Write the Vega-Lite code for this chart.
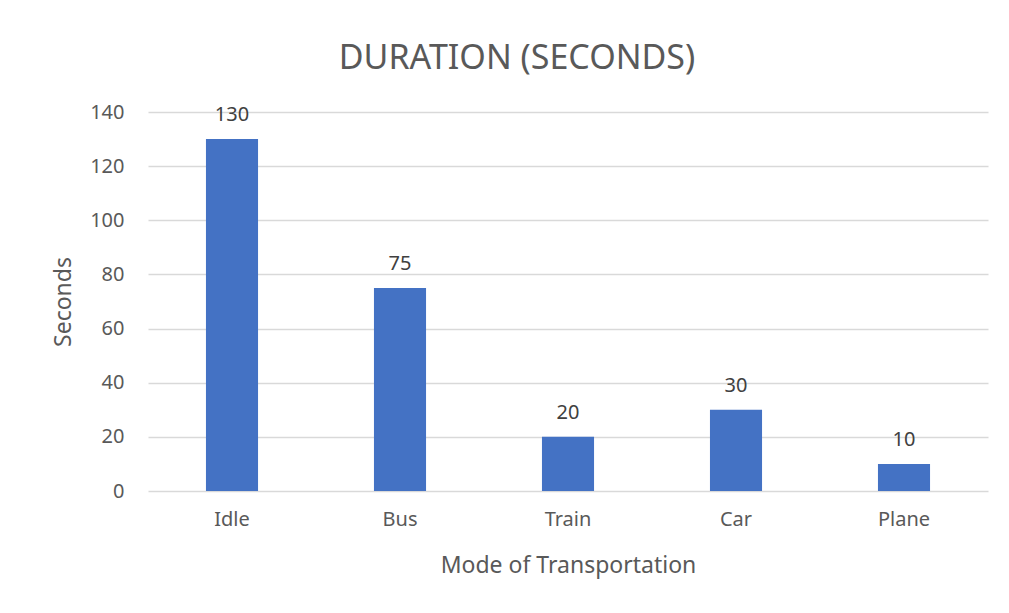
{
  "$schema": "https://vega.github.io/schema/vega-lite/v6.json",
  "autosize": "none",
  "width": 840,
  "height": 379,
  "padding": {"left": 148, "top": 112, "right": 21, "bottom": 122},
  "background": "white",
  "data": {"values": [
    {"mode": "Idle", "seconds": 130},
    {"mode": "Bus", "seconds": 75},
    {"mode": "Train", "seconds": 20},
    {"mode": "Car", "seconds": 30},
    {"mode": "Plane", "seconds": 10}
  ]},
  "title": {
    "text": "DURATION (SECONDS)",
    "font": "Noto Sans",
    "fontSize": 34,
    "fontWeight": "normal",
    "color": "#595959",
    "anchor": "middle",
    "dx": -51,
    "offset": 26
  },
  "encoding": {
    "x": {
      "field": "mode", "type": "nominal", "sort": null,
      "title": "Mode of Transportation",
      "scale": {"paddingInner": 0.69, "paddingOuter": 0.345},
      "axis": {
        "labelAngle": 0, "ticks": false, "domain": false,
        "labelPadding": 18, "titlePadding": 25,
        "labelFontSize": 20, "titleFontSize": 23,
        "labelColor": "#595959", "titleColor": "#595959",
        "labelFont": "Noto Sans", "titleFont": "Noto Sans", "titleFontWeight": "normal"
      }
    },
    "y": {
      "field": "seconds", "type": "quantitative", "title": "Seconds",
      "scale": {"domain": [0, 140]},
      "axis": {
        "values": [0, 20, 40, 60, 80, 100, 120, 140],
        "ticks": false, "domain": false, "labelPadding": 24, "titlePadding": 14,
        "gridColor": "#d9d9d9", "gridWidth": 1.3,
        "labelFontSize": 20, "titleFontSize": 23,
        "labelColor": "#595959", "titleColor": "#595959",
        "labelFont": "Noto Sans", "titleFont": "Noto Sans", "titleFontWeight": "normal"
      }
    }
  },
  "layer": [
    {"mark": {"type": "bar", "color": "#4472C4"}},
    {"mark": {"type": "text", "dy": -14, "baseline": "bottom", "font": "Noto Sans", "fontSize": 20, "color": "#404040"},
     "encoding": {"text": {"field": "seconds", "type": "quantitative"}}}
  ],
  "config": {"view": {"stroke": null}}
}
